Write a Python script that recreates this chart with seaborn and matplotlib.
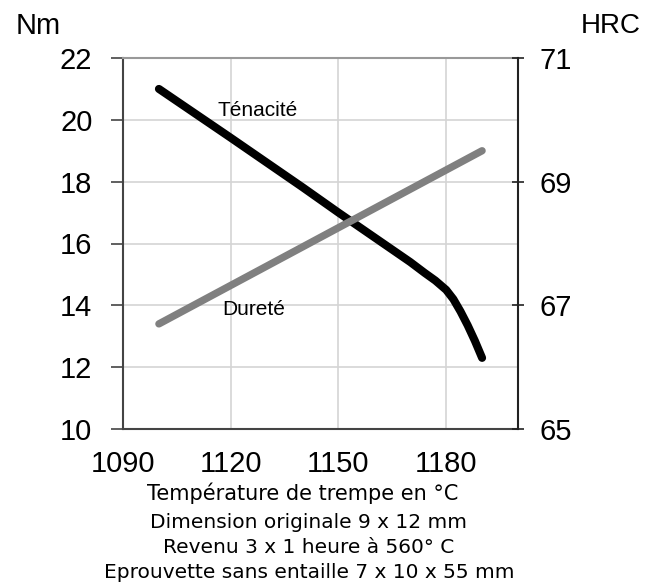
import numpy as np
import pandas as pd
import seaborn as sns
import matplotlib.pyplot as plt

# Température de trempe (°C)
temp_tenacite = [1100, 1120, 1140, 1150, 1160, 1165, 1170, 1174, 1177, 1180, 1182, 1184, 1186, 1188, 1190]
tenacite_nm = [21.0, 19.42, 17.82, 17.0, 16.2, 15.8, 15.4, 15.05, 14.8, 14.5, 14.2, 13.8, 13.35, 12.85, 12.3]

temp_durete = [1100, 1190]
durete_hrc = [66.7, 69.5]

x_ticks = [1090, 1120, 1150, 1180]
left_ticks = [10, 12, 14, 16, 18, 20, 22]
right_ticks = [65, 67, 69, 71]

notes = ["Dimension originale 9 x 12 mm",
         "Revenu 3 x 1 heure à 560° C",
         "Eprouvette sans entaille 7 x 10 x 55 mm"]

sns.set_style("white")
plt.rcParams['font.family'] = ['Liberation Sans', 'DejaVu Sans']
plt.rcParams['text.color'] = 'black'

fig = plt.figure(figsize=(6.54, 5.87), dpi=100)
ax = fig.add_axes([123 / 654, 1 - 429 / 587, (518 - 123) / 654, (429 - 58) / 587])
ax2 = ax.twinx()

df_t = pd.DataFrame({"temp": temp_tenacite, "val": tenacite_nm})
df_d = pd.DataFrame({"temp": temp_durete, "val": durete_hrc})

sns.lineplot(data=df_t, x="temp", y="val", ax=ax, color="black", lw=5.8,
             solid_capstyle="round", solid_joinstyle="round", zorder=3)
sns.lineplot(data=df_d, x="temp", y="val", ax=ax2, color="#808080", lw=5.3,
             solid_capstyle="round", zorder=3)

ax.set_xlim(1090, 1200)
ax.set_ylim(10, 22)
ax2.set_ylim(65, 71)
ax.set_xticks(x_ticks)
ax.set_yticks(left_ticks)
ax2.set_yticks(right_ticks)
ax.set_xlabel("")
ax.set_ylabel("")
ax2.set_ylabel("")

ax.grid(True, color="#d4d4d4", lw=1.2)
ax2.grid(False)
ax.set_axisbelow(True)

ax.tick_params(axis="x", labelsize=21, length=9, width=1.2, color="#444444",
               labelcolor="black", direction="out", pad=6)
ax.tick_params(axis="y", labelsize=21, length=9, width=1.2, color="#444444",
               labelcolor="black", direction="out", pad=13)
ax2.tick_params(axis="y", labelsize=21, length=9, width=1.2, color="#222222",
                labelcolor="black", direction="inout", pad=11)

for s in ["left", "bottom"]:
    ax.spines[s].set_color("#444444")
    ax.spines[s].set_linewidth(1.5)
ax.spines["top"].set_color("#999999")
ax.spines["top"].set_linewidth(1.5)
ax.spines["right"].set_visible(False)
ax2.spines["right"].set_color("#222222")
ax2.spines["right"].set_linewidth(1.5)
for s in ["left", "bottom", "top"]:
    ax2.spines[s].set_visible(False)

ax.text(1127.6, 20.3, "Ténacité", fontsize=15, ha="center", va="center")
ax.text(1126.5, 13.85, "Dureté", fontsize=15, ha="center", va="center")

fig.text(38 / 654, 1 - 26 / 587, "Nm", fontsize=21, ha="center", va="center")
fig.text(611 / 654, 1 - 26 / 587, "HRC", fontsize=20, ha="center", va="center")

fig.text(303 / 654, 1 - 493 / 587, "Température de trempe en °C", fontsize=15,
         ha="center", va="center", family=["DejaVu Sans"])
for i, n in enumerate(notes):
    fig.text(309 / 654, 1 - (523 + 24.5 * i) / 587, n, fontsize=14.5,
             ha="center", va="center", family=["DejaVu Sans"])

fig.savefig("out.png", dpi=100)
